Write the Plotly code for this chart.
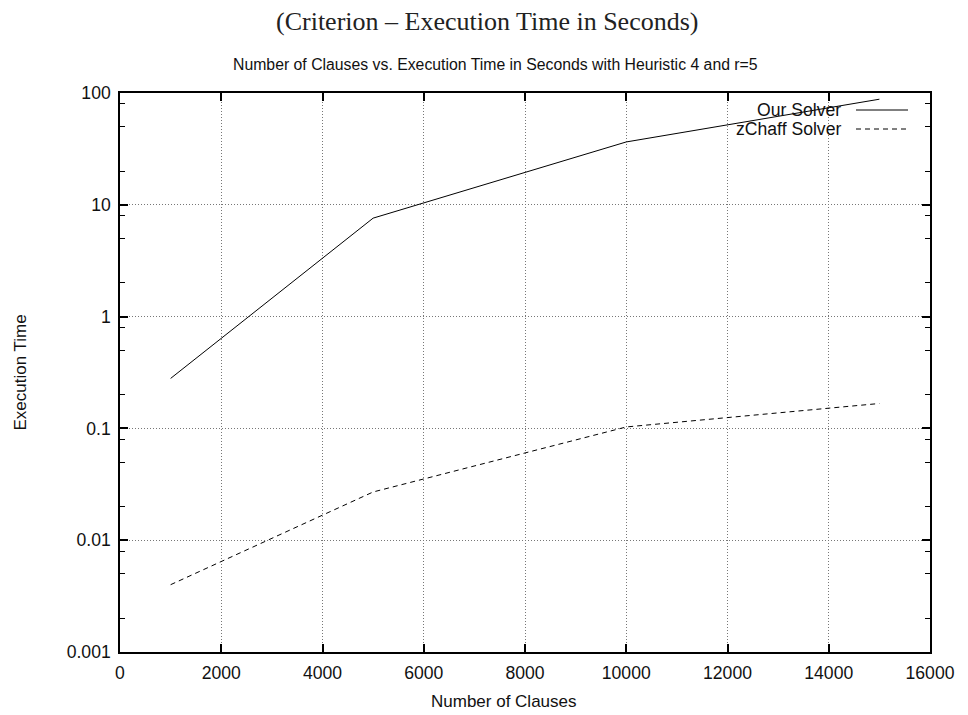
import plotly.graph_objects as go

# Benchmark results
clauses = [1000, 5000, 10000, 15000]
our_solver = [0.28, 7.6, 36.5, 88]
zchaff_solver = [0.004, 0.027, 0.103, 0.167]

x_ticks = [0, 2000, 4000, 6000, 8000, 10000, 12000, 14000, 16000]
x_tick_labels = [str(v) for v in x_ticks]
y_ticks = [0.001, 0.01, 0.1, 1, 10, 100]
y_tick_labels = ["0.001", "0.01", "0.1", "1", "10", "100"]
y_minor = [m * 10 ** e for e in range(-3, 2) for m in (2, 5, 8)]

SANS = "Liberation Sans, Arial, sans-serif"
SERIF = "Liberation Serif, Times New Roman, serif"

# Plot area in pixels
L, R, T, B = 120, 38, 93, 63
W, H = 968, 715
PW, PH = W - L - R, H - T - B


def px_x(px):
    return (px - L) / PW


def px_y(py):
    return 1 - (py - T) / PH


fig = go.Figure()
fig.add_trace(go.Scatter(x=clauses, y=our_solver, mode="lines", name="Our Solver",
                         line=dict(color="black", width=1)))
fig.add_trace(go.Scatter(x=clauses, y=zchaff_solver, mode="lines", name="zChaff Solver",
                         line=dict(color="black", width=1, dash="5px,4px")))

axis_common = dict(
    showline=True, linecolor="black", linewidth=1.5, mirror="allticks",
    ticks="inside", ticklen=8, tickcolor="black", tickwidth=1.5,
    showgrid=True, gridcolor="#777", griddash="1px,2px", gridwidth=1,
    zeroline=False, layer="above traces",
    tickfont=dict(family=SANS, size=17.6, color="#111"),
)

fig.update_xaxes(range=[0, 16000], tickvals=x_ticks, ticktext=x_tick_labels,
                 ticklabelstandoff=4, **axis_common)
fig.update_yaxes(type="log", range=[-3, 2], tickvals=y_ticks, ticktext=y_tick_labels,
                 ticklabelstandoff=4,
                 minor=dict(tickvals=y_minor, ticks="inside", ticklen=5,
                            tickcolor="black", tickwidth=1, showgrid=False),
                 **axis_common)

fig.update_layout(
    width=W, height=H,
    margin=dict(l=L, r=R, t=T, b=B),
    plot_bgcolor="white", paper_bgcolor="white",
    showlegend=False,
    font=dict(family=SANS, color="#111"),
)

# Headings
fig.add_annotation(text="(Criterion – Execution Time in Seconds)", xref="paper", yref="paper",
                   x=px_x(487), y=px_y(22), showarrow=False,
                   font=dict(family=SERIF, size=26, color="#222"),
                   xanchor="center", yanchor="middle")
fig.add_annotation(text="Number of Clauses vs. Execution Time in Seconds with Heuristic 4 and r=5",
                   xref="paper", yref="paper", x=px_x(495), y=px_y(65), showarrow=False,
                   font=dict(family=SANS, size=15.8, color="#111"),
                   xanchor="center", yanchor="middle")

# Axis titles
fig.add_annotation(text="Number of Clauses", xref="paper", yref="paper",
                   x=px_x(504), y=px_y(701), showarrow=False, xanchor="center", yanchor="middle",
                   font=dict(family=SANS, size=17, color="#111"))
fig.add_annotation(text="Execution Time", xref="paper", yref="paper", textangle=-90,
                   x=px_x(20), y=0.5, showarrow=False, xanchor="center", yanchor="middle",
                   font=dict(family=SANS, size=17, color="#111"))

# Key in the top-right corner: label then line sample
key = [("Our Solver", "solid", 110), ("zChaff Solver", "5px,4px", 129)]
for label, dash, ypx in key:
    yp = px_y(ypx)
    fig.add_annotation(text=label, xref="paper", yref="paper", x=px_x(843), y=yp,
                       showarrow=False, xanchor="right", yanchor="middle",
                       font=dict(family=SANS, size=17.6, color="#111"))
    fig.add_shape(type="line", xref="paper", yref="paper",
                  x0=px_x(856), x1=px_x(908), y0=yp, y1=yp,
                  line=dict(color="black", width=1, dash=dash))

fig.write_html("out.html")
